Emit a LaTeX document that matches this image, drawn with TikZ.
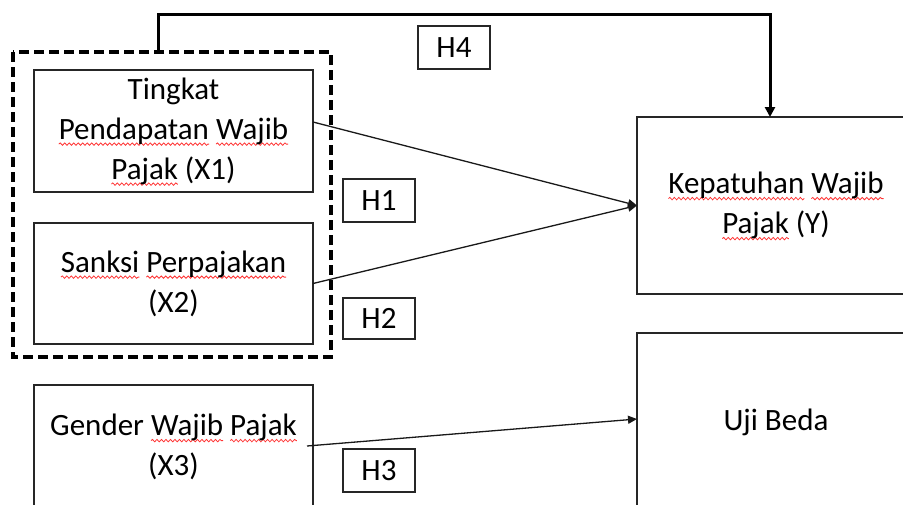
\documentclass[tikz,border=0pt]{standalone}
\usepackage{fontspec}
\setmainfont{Carlito}
\usetikzlibrary{arrows.meta,calc,decorations.pathmorphing}
\newlength\sqlen
\newcommand\sq[1]{\settowidth\sqlen{#1}\rlap{\tikz[overlay]\draw[red!80,line width=0.8pt,decorate,decoration={snake,amplitude=1.2pt,segment length=4.5pt}] (0pt,-5pt) -- (\sqlen,-5pt);}#1}
\tikzset{
  varbox/.style={draw=black!85,line width=1.3pt,rectangle,inner sep=0pt,outer sep=0pt,align=center,font=\fontsize{31}{40}\selectfont},
  hbox/.style={draw=black!85,line width=1.3pt,rectangle,inner sep=0pt,outer sep=0pt,minimum width=72pt,font=\fontsize{31}{40}\selectfont},
  grpbox/.style={rectangle,inner sep=0pt,outer sep=0pt},
  grpline/.style={draw=black,line width=3.2pt,dash pattern=on 10pt off 5pt},
  thinarrow/.style={draw=black!90,line width=1.3pt,-{Triangle[length=9pt,width=8pt]}},
  thickarrow/.style={draw=black,line width=3pt,-{Triangle[length=10pt,width=10pt]}}
}
\begin{document}
\begin{tikzpicture}[x=1pt,y=-1pt]
\useasboundingbox (0,0) rectangle (903,504);
\clip (0,0) rectangle (903,504);
\fill[white] (0,0) rectangle (903,504);
% group
\node[grpbox,minimum width=318pt,minimum height=305pt] (grp) at (172,204.5) {};
\draw[grpline] (grp.north west) rectangle (grp.south east);
% variable boxes
\node[varbox,minimum width=279pt,minimum height=122pt] (x1) at (173.5,131)
  {Tingkat\\\sq{Pendapatan} \sq{Wajib}\\\sq{Pajak} (X1)};
\node[varbox,minimum width=279pt,minimum height=121pt] (x2) at (173.5,283.5)
  {\sq{Sanksi} \sq{Perpajakan}\\(X2)};
\node[varbox,minimum width=279pt,minimum height=124pt] (x3) at (173.5,447)
  {Gender \sq{Wajib} \sq{Pajak}\\(X3)};
\node[varbox,minimum width=278pt,minimum height=177pt] (y) at (776,205.5)
  {\sq{Kepatuhan} \sq{Wajib}\\\sq{Pajak} (Y)};
\node[varbox,minimum width=278pt,minimum height=178pt] (uji) at (776,422)
  {Uji Beda};
% hypothesis labels
\node[hbox,minimum height=43pt] (h1) at (379,200.5) {H1};
\node[hbox,minimum height=41pt] (h2) at (379,318.5) {H2};
\node[hbox,minimum height=43pt] (h3) at (379,470.5) {H3};
\node[hbox,minimum height=43pt] (h4) at (454,47.5) {H4};
% connectors
\coordinate (c1) at (158,14);
\coordinate (c2) at (770,14);
\draw[thickarrow] (grp.north west -| c1) -- (c1) -- (c2) -- (y.north -| c2);
\draw[thinarrow] ($(x1.east)+(0,-9)$) -- (y.west);
\draw[thinarrow] (x2.east) -- (y.west);
\draw[thinarrow] ($(x3.east)+(-6,-1)$) -- ($(uji.west)+(0,-3)$);
\end{tikzpicture}
\end{document}
